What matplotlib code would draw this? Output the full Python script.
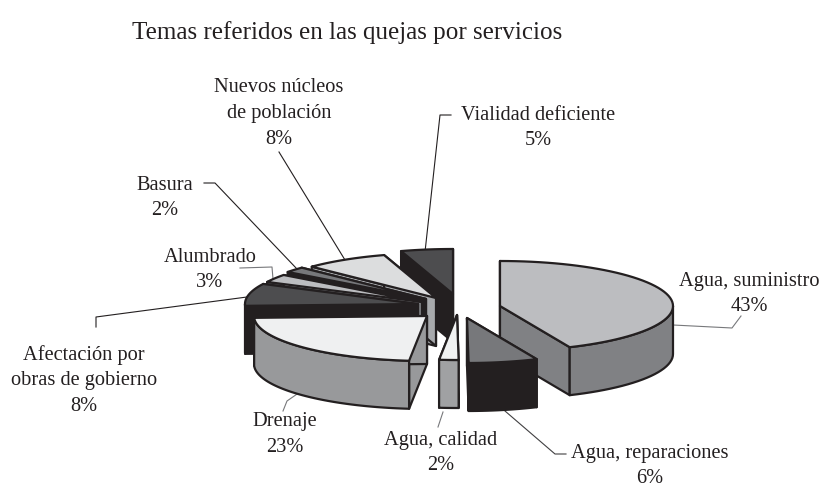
import numpy as np
import matplotlib
matplotlib.use('Agg')
import matplotlib.pyplot as plt
from matplotlib.patches import Polygon

title = 'Temas referidos en las quejas por servicios'
names = ['Agua, suministro', 'Agua, reparaciones', 'Agua, calidad', 'Drenaje',
         'Afectación por\nobras de gobierno', 'Alumbrado', 'Basura',
         'Nuevos núcleos\nde población', 'Vialidad deficiente']
# labels show the rounded percent, the slices look a bit off from it
labels_pct = [43, 6, 2, 23, 8, 3, 2, 8, 5]
shares = [43.4, 6.45, 1.8, 22.7, 8.0, 2.9, 2.0, 7.9, 4.85]

# colours of the top and of the sides of each slice
top_colors = ['#bcbdc0', '#77787b', '#f1f2f2', '#eff0f1', '#4d4d4f', '#bcbdc0', '#77787b', '#dcddde', '#4d4d4f']
side_colors = ['#808184', '#231f20', '#a0a1a3', '#98999b', '#231f20', '#808184', '#231f20', '#a7a9ac', '#231f20']

# pixel position of each slice's apex (the exploded pie)
apex_x = [500, 467, 457, 427, 418, 422, 426, 436, 453]
apex_y = [307, 319, 316, 317, 305, 303, 300, 299, 295]
# back slices first, front slices last
draw_order = [0, 8, 7, 6, 5, 4, 3, 1, 2]

rx, ry = 173, 45
depth = 48
edge = '#231f20'
lw = 1.6

label_x = [749, 650, 441, 285, 84, 210, 165, 279, 538]
label_y = [294, 466, 453, 434.5, 380.5, 270, 198, 113.5, 128]

# leader lines, one per slice, with their grey
leaders = [
    ([673, 732, 741], [326, 329, 317], '#77787b'),
    ([505, 555, 566], [412, 455, 455], '#414042'),
    ([443, 438], [413, 428], '#77787b'),
    ([300, 287, 283], [393, 402, 412], '#77787b'),
    ([247, 96, 96], [298, 318, 328], '#231f20'),
    ([273, 272, 240], [280, 268, 269], '#77787b'),
    ([297, 215, 204], [270, 184, 184], '#231f20'),
    ([345, 279], [261, 153], '#231f20'),
    ([425, 440, 451], [253, 116, 116], '#231f20'),
]


def rim(ax0, ay0, a):
    # a in degrees clockwise from 12 o'clock
    a = np.radians(a)
    return ax0 + rx * np.sin(a), ay0 - ry * np.cos(a)


fig = plt.figure(figsize=(8.2, 4.89), dpi=100)
ax = fig.add_axes([0, 0, 1, 1])
ax.set_xlim(0, 820)
ax.set_ylim(489, 0)
ax.axis('off')

font = 'Liberation Serif'
ax.text(132, 33, title, family=font, fontsize=18.1, va='center', ha='left', color='#231f20')

edges = np.cumsum([0] + shares) * 3.6

for lx, ly, lc in leaders:
    ax.plot(lx, ly, color=lc, lw=0.8, zorder=1)

z = 2
for i in draw_order:
    x0, y0 = apex_x[i], apex_y[i]
    a0, a1 = edges[i], edges[i + 1]
    angles = np.linspace(a0, a1, 60)
    xs, ys = rim(x0, y0, angles)

    # cut faces
    for a in (a0, a1):
        ex, ey = rim(x0, y0, a)
        ax.add_patch(Polygon([(x0, y0), (ex, ey), (ex, ey + depth), (x0, y0 + depth)],
                             fc=side_colors[i], ec=edge, lw=lw, joinstyle='round', zorder=z))
        z += 1

    # outer wall, only the part that faces the viewer
    front = (angles > 90) & (angles < 270)
    if front.any():
        fx, fy = xs[front], ys[front]
        wall = list(zip(fx, fy)) + list(zip(fx[::-1], fy[::-1] + depth))
        ax.add_patch(Polygon(wall, fc=side_colors[i], ec=edge, lw=lw, joinstyle='round', zorder=z))
        z += 1

    # top of the slice
    ax.add_patch(Polygon([(x0, y0)] + list(zip(xs, ys)), fc=top_colors[i], ec=edge, lw=lw,
                         joinstyle='round', zorder=z))
    z += 1

for i in range(len(names)):
    ax.text(label_x[i], label_y[i], names[i] + '\n' + str(labels_pct[i]) + '%', family=font, fontsize=14.7,
            ha='center', va='center', color='#231f20', linespacing=1.47, zorder=z)

fig.savefig('out.png', dpi=100)
